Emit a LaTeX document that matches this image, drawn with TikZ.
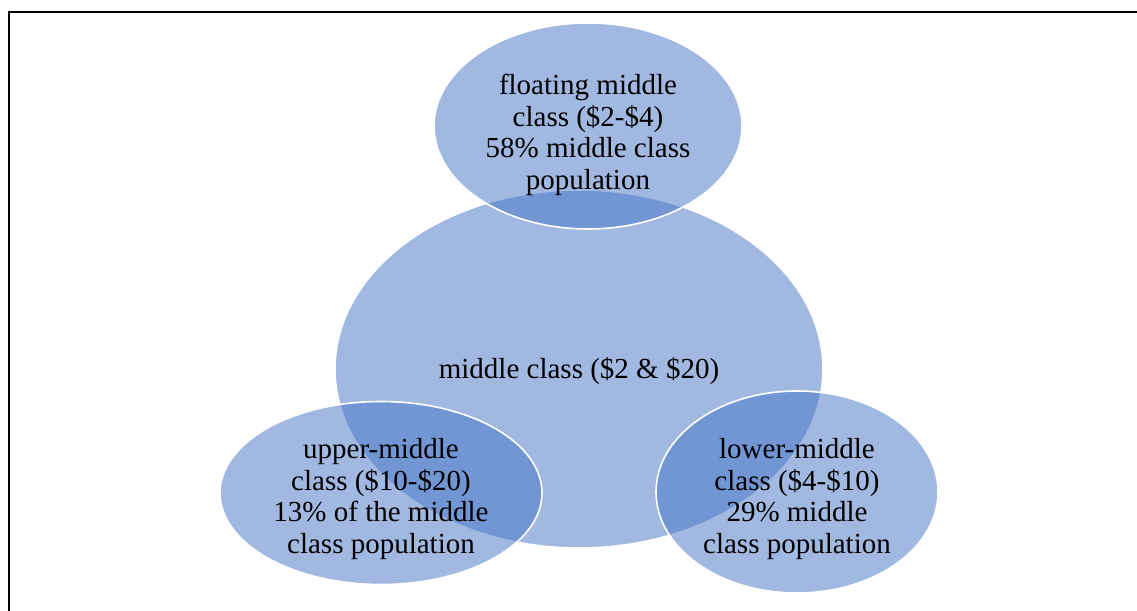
\documentclass[tikz,border=0pt]{standalone}
\usepackage{fontspec}
\setmainfont{Liberation Serif}
\usetikzlibrary{shapes.geometric}
\definecolor{accent}{HTML}{4472C4}
\tikzset{
  bubble/.style={ellipse, inner sep=0pt, fill=accent, fill opacity=0.5,
    draw=white, line width=1.6pt},
  caption/.style={align=center, inner sep=0pt,
    font=\fontsize{29}{31.5}\selectfont},
  frameline/.style={line width=2pt, black}
}
\begin{document}
\begin{tikzpicture}[x=1pt, y=-1pt]
  \useasboundingbox (0,0) rectangle (1137,610);
  \clip (0,0) rectangle (1137,610);
  % outer frame (top and left edges fall inside the page)
  \coordinate (frameR) at (1140,12);
  \coordinate (frameC) at (9,12);
  \coordinate (frameB) at (9,615);
  \draw[frameline] (frameR) -- (frameC) -- (frameB);
  % the central class and its three sub-classes
  \node[bubble, minimum width=488pt, minimum height=358pt] (mid) at (579,369) {};
  \node[bubble, minimum width=308pt, minimum height=206pt] (top) at (588,126) {};
  \node[bubble, minimum width=322pt, minimum height=183pt] (upper) at (381,493) {};
  \node[bubble, minimum width=282pt, minimum height=202pt] (lower) at (797,492) {};
  % labels
  \node[caption] (midText) at (579,371) {middle class (\$2 \& \$20)};
  \node[caption] (topText) at ([yshift=-9pt]top.center)
    {floating middle\\class (\$2-\$4)\\58\% middle class\\population};
  \node[caption] (upperText) at ([yshift=-6pt]upper.center)
    {upper-middle\\class (\$10-\$20)\\13\% of the middle\\class population};
  \node[caption] (lowerText) at ([yshift=-7pt]lower.center)
    {lower-middle\\class (\$4-\$10)\\29\% middle\\class population};
\end{tikzpicture}
\end{document}
